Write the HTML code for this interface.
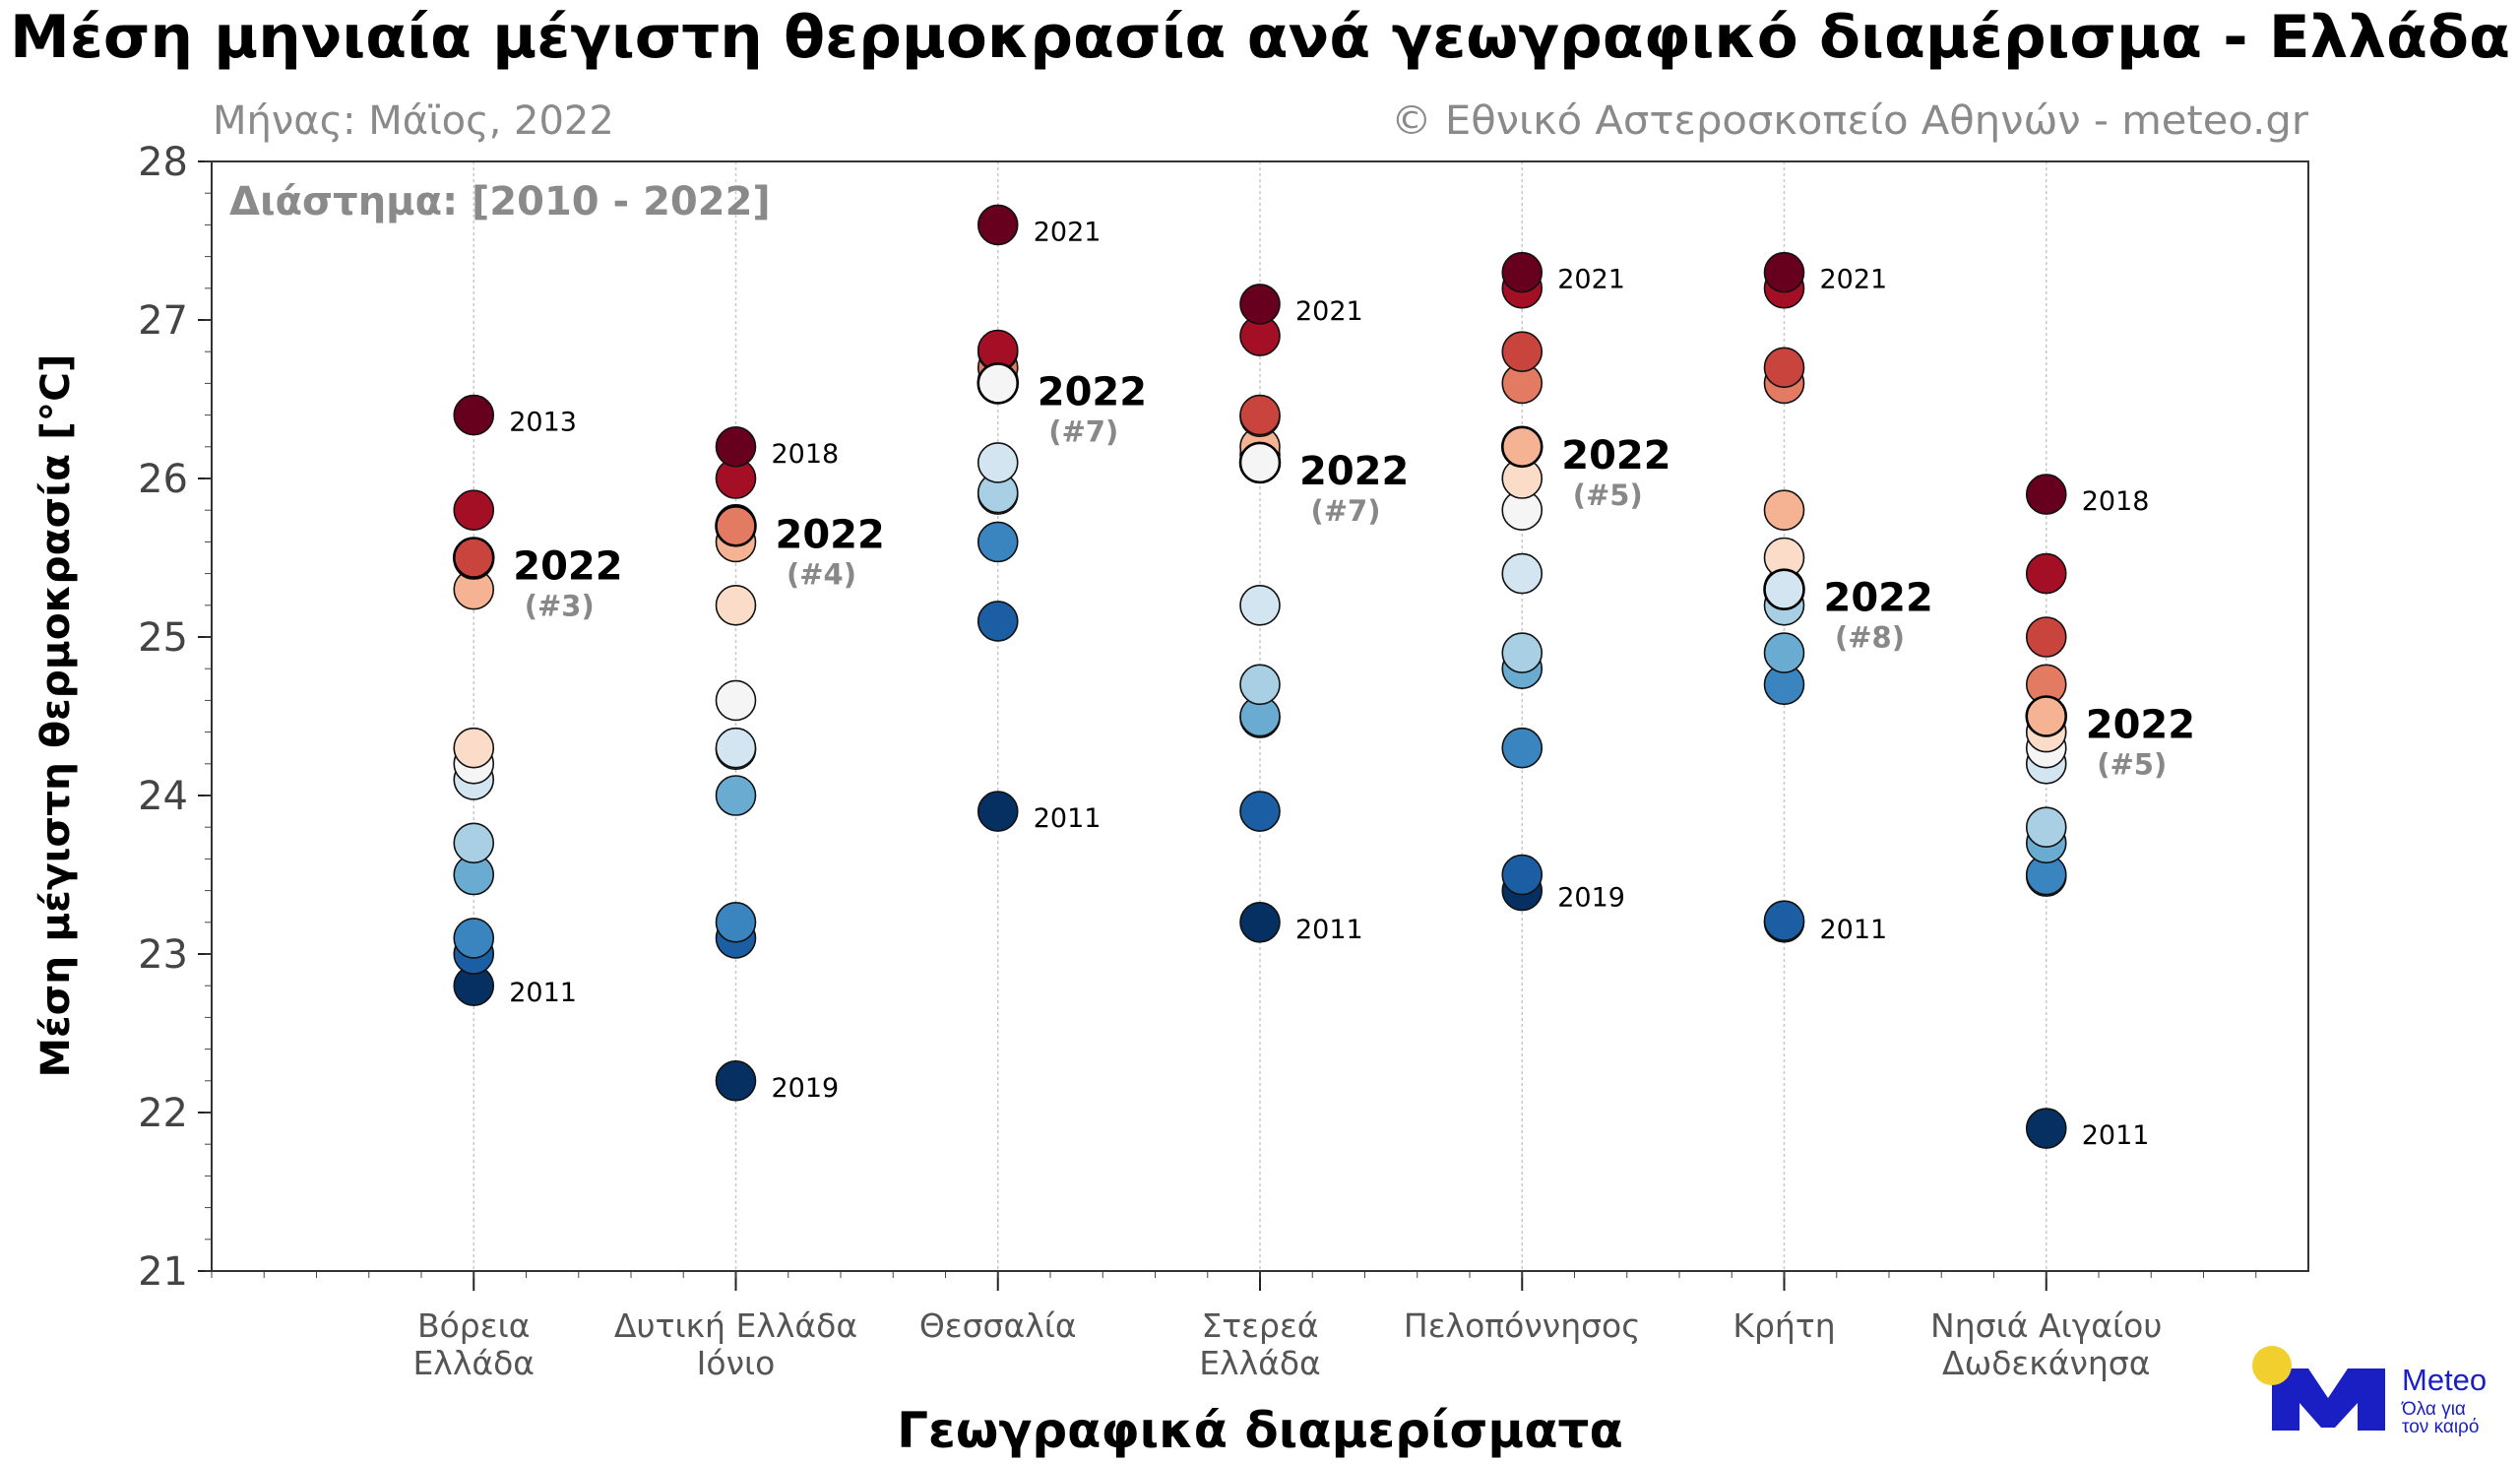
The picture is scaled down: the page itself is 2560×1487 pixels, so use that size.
<!DOCTYPE html>
<html><head><meta charset="utf-8">
<style>
html,body{margin:0;padding:0;background:#fff;}
svg{display:block;font-family:"DejaVu Sans","Liberation Sans",sans-serif;}
</style></head>
<body>
<svg id="chart" width="2560" height="1487" viewBox="0 0 2560 1487" xmlns="http://www.w3.org/2000/svg">
<rect width="2560" height="1487" fill="#fff"/>
<text x="1280" y="58" text-anchor="middle" font-size="60" font-weight="bold" fill="#000" textLength="2540" lengthAdjust="spacingAndGlyphs">Μέση μηνιαία μέγιστη θερμοκρασία ανά γεωγραφικό διαμέρισμα - Ελλάδα</text>
<text x="216" y="136" font-size="40" fill="#8a8a8a">Μήνας: Μάϊος, 2022</text>
<text x="2345" y="136" text-anchor="end" font-size="40" fill="#8a8a8a" textLength="932" lengthAdjust="spacingAndGlyphs">© Εθνικό Αστεροσκοπείο Αθηνών - meteo.gr</text>
<g id="grid"></g>
<g id="axes"></g>
<g id="marks"></g>
<g id="labels"></g>
<rect x="215" y="164" width="2130" height="1127" fill="none" stroke="#333" stroke-width="2"/>
<text x="233" y="218" font-size="40" font-weight="bold" fill="#8a8a8a">Διάστημα: [2010 - 2022]</text>
<text transform="translate(70,727) rotate(-90)" text-anchor="middle" font-size="40" font-weight="bold" fill="#000" textLength="735" lengthAdjust="spacingAndGlyphs">Μέση μέγιστη θερμοκρασία [°C]</text>
<text x="1280" y="1470" text-anchor="middle" font-size="50" font-weight="bold" fill="#000">Γεωγραφικά διαμερίσματα</text>
<g>
<path d="M2308 1453 V1390 H2345 L2365 1420 L2385 1390 H2423 V1453 H2395 V1425 L2372 1450 H2358 L2336 1425 V1453 Z" fill="#1a1fc4"/>
<circle cx="2308" cy="1387" r="20" fill="#f0cf2e"/>
<text x="2440" y="1412" font-size="31" fill="#1a1fc4" font-family="Liberation Sans, sans-serif">Meteo</text>
<text x="2440" y="1437" font-size="19" fill="#1a1fc4" font-family="Liberation Sans, sans-serif">Όλα για</text>
<text x="2440" y="1455" font-size="19" fill="#1a1fc4" font-family="Liberation Sans, sans-serif">τον καιρό</text>
</g>
</svg>
<script>
const regions1 = ["Βόρεια","Δυτική Ελλάδα","Θεσσαλία","Στερεά","Πελοπόννησος","Κρήτη","Νησιά Αιγαίου"];
const regions2 = ["Ελλάδα","Ιόνιο","","Ελλάδα","","","Δωδεκάνησα"];
const valsNorth = [26.4,25.8,25.5,25.49,25.3,24.3,24.2,24.1,23.7,23.5,23.1,23.0,22.8];
const valsWest = [26.2,26.0,25.71,25.7,25.6,25.2,24.6,24.3,24.29,24.0,23.2,23.1,22.2];
const valsThess = [27.6,26.81,26.8,26.7,26.62,26.61,26.6,26.1,25.91,25.9,25.6,25.1,23.9];
const valsSterea = [27.1,26.9,26.4,26.39,26.2,26.15,26.1,25.2,24.7,24.5,24.49,23.9,23.2];
const valsPelop = [27.3,27.2,26.8,26.6,26.2,26.0,25.8,25.4,24.9,24.8,24.3,23.5,23.4];
const valsCrete = [27.3,27.2,26.7,26.6,25.8,25.5,25.31,25.3,25.2,24.9,24.7,23.21,23.2];
const valsAegean = [25.9,25.4,25.0,24.7,24.5,24.4,24.3,24.2,23.8,23.7,23.5,23.49,21.9];
const value2022 = [25.5,25.7,26.6,26.1,26.2,25.3,24.5];
const rank2022 = ["(#3)","(#4)","(#7)","(#7)","(#5)","(#8)","(#5)"];
const maxYear = ["2013","2018","2021","2021","2021","2021","2018"];
const minYear = ["2011","2019","2011","2011","2019","2011","2011"];
const yTicks = [21,22,23,24,25,26,27,28];
const allVals = [valsNorth,valsWest,valsThess,valsSterea,valsPelop,valsCrete,valsAegean];
const palette = ["#67001f","#a50f26","#c9443d","#e27b62","#f6b394","#fbdcc8","#f5f5f5","#d3e5f0","#a8cfe4","#6aabd2","#3a84bf","#1c5ea3","#053061"];

const NS="http://www.w3.org/2000/svg";
const X0=215,X1=2345,Y0=164,Y1=1291;
const xs=i=>X0+(i+1)/8*(X1-X0);
const ys=v=>Y1-(v-21)/7*(Y1-Y0);
function mk(tag,attrs,parent,text){const e=document.createElementNS(NS,tag);for(const k in attrs)e.setAttribute(k,attrs[k]);if(text!==undefined)e.textContent=text;parent.appendChild(e);return e;}
const grid=document.getElementById('grid'),axes=document.getElementById('axes'),marks=document.getElementById('marks'),labels=document.getElementById('labels');

regions1.forEach((r,i)=>{
  const x=xs(i);
  const g=mk('line',{x1:x,x2:x,y1:Y0,y2:Y1,stroke:'#c8c8c8','stroke-width':1.5,'stroke-dasharray':'3,3'},grid);
  
  
  const t=mk('line',{x1:x,x2:x,y1:Y1,y2:Y1+20,stroke:'#222','stroke-width':2},axes);
  
  
  const l1=mk('text',{x:x,y:1358,'text-anchor':'middle','font-size':33,fill:'#555'},axes,r);
  
  
  if(regions2[i]){const l2=mk('text',{x:x,y:1396,'text-anchor':'middle','font-size':33,fill:'#555'},axes,regions2[i]);
  
  }
});
for(let k=-1;k<=7;k+=0.2){const x=xs(k);mk('line',{x1:x,x2:x,y1:Y1,y2:Y1+7,stroke:'#444','stroke-width':1},axes);}
yTicks.forEach(v=>{
  const y=ys(v);
  mk('line',{x1:X0-14,x2:X0,y1:y,y2:y,stroke:'#222','stroke-width':2},axes);
  const t=mk('text',{x:X0-24,y:y+14,'text-anchor':'end','font-size':40,fill:'#444'},axes,String(v));
  
  
});
for(let v=21;v<=28.001;v+=0.2){const y=ys(v);mk('line',{x1:X0-7,x2:X0,y1:y,y2:y,stroke:'#444','stroke-width':1},axes);}

allVals.forEach((vals,i)=>{
  const x=xs(i);
  const sorted=[...vals].sort((a,b)=>b-a);
  const order=[...vals].sort((a,b)=>a-b);
  let v22=value2022[i];
  order.forEach(v=>{
    if(v===v22)return;
    const c=mk('ellipse',{cx:x,cy:ys(v),rx:20,ry:20,fill:palette[sorted.indexOf(v)],stroke:'#111','stroke-width':1.6},marks);
    
    
  });
  const c=mk('ellipse',{cx:x,cy:ys(v22),rx:20,ry:20,fill:palette[sorted.indexOf(v22)],stroke:'#000','stroke-width':2.6},marks);
  
  
  const mx=Math.max(...vals),mn=Math.min(...vals);
  const a=mk('text',{x:x+36,y:ys(mx)+16,'font-size':27,fill:'#000'},labels,maxYear[i]);
  
  
  const b=mk('text',{x:x+36,y:ys(mn)+16,'font-size':27,fill:'#000'},labels,minYear[i]);
  
  
  const y22=ys(v22);
  const d=mk('text',{x:x+40,y:y22+22,'font-size':40,'font-weight':'bold',fill:'#000'},labels,'2022');
  
  
  const e=mk('text',{x:x+87,y:y22+59,'text-anchor':'middle','font-size':29,'font-weight':'bold',fill:'#888'},labels,rank2022[i]);
  
  
});
</script>
</body></html>
